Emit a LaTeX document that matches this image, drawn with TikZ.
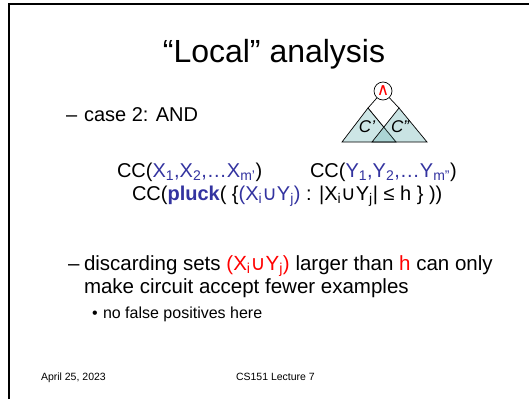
\documentclass[tikz,border=0pt]{standalone}
\usepackage{fontspec}
\setmainfont{Liberation Sans}
\newfontfamily\symf{DejaVu Sans}
\definecolor{xblue}{RGB}{51,51,160}
\definecolor{xred}{RGB}{255,0,0}
\definecolor{trifill}{RGB}{205,230,230}
\definecolor{trifilltwo}{RGB}{120,185,185}
\newcommand\sub[1]{\textsubscript{#1}}
\newcommand\myunion{{\symf ∪}}
\tikzset{
  txt/.style={anchor=base west, inner sep=0pt, outer sep=0pt},
  big/.style={font=\fontsize{20}{24}\selectfont},
  bigger/.style={font=\fontsize{20.5}{24}\selectfont},
  tri/.style={line width=0.7pt, draw=black, line join=miter},
}
\begin{document}
\begin{tikzpicture}[x=1pt,y=-1pt]
\useasboundingbox (0,0) rectangle (529,399);
\fill[white] (0,0) rectangle (529,399);
\draw[line width=2pt] (9,399) -- (9,4) -- (529,4);

\node[anchor=base, inner sep=0pt, font=\fontsize{32}{38}\selectfont] (title) at (274,62) {“Local” analysis};

\node[txt, big] (dash1) at (66,121) {–};
\node[txt, big] (case) at (84,121) {case 2: AND};

% tree
\coordinate (la) at (368,108);
\coordinate (lb1) at (342,142);
\coordinate (lb2) at (396,142);
\coordinate (ra) at (399,108);
\coordinate (rb1) at (372,142);
\coordinate (rb2) at (427,142);
\filldraw[tri, fill=trifill] (la) -- (lb1) -- (lb2) -- cycle;
\fill[trifilltwo, fill opacity=0.4] (ra) -- (rb1) -- (rb2) -- cycle;
\draw[tri, draw opacity=0.45] (la) -- (lb2);
\draw[tri] (ra) -- (rb1) -- (rb2) -- cycle;
\node[draw, circle, line width=0.7pt, fill=white, minimum size=18pt, inner sep=0pt, text=xred, font=\symf\fontsize{17}{17}\selectfont] (and) at (383,91) {\raisebox{-0.5pt}{∧}};
\draw[line width=0.7pt] (and) -- (la);
\draw[line width=0.7pt] (and) -- (ra);
\node[anchor=center, inner sep=0pt, font=\itshape\fontsize{17}{17}\selectfont] (c1) at (367,126.5) {C'};
\node[anchor=center, inner sep=0pt, font=\itshape\fontsize{17}{17}\selectfont] (c2) at (400,126.5) {C''};

% CC lines
\node[txt, big] (ccx) at (117,177) {CC(\textcolor{xblue}{X\sub{1},X\sub{2},…X\sub{m'}})};
\node[txt, big] (ccy) at (310,177) {CC(\textcolor{xblue}{Y\sub{1},Y\sub{2},…Y\sub{m''}})};
\node[txt, big] (ccp) at (132,200) {CC(\textcolor{xblue}{\bfseries pluck}( \{\textcolor{xblue}{(X\sub{i}\myunion Y\sub{j})} : |X\sub{i}\myunion Y\sub{j}| ≤ h \} ))};

% discarding
\node[txt, bigger] (dash2) at (68,270) {–};
\node[txt, bigger] (disc1) at (84,270) {discarding sets \textcolor{xred}{(X\sub{i}\myunion Y\sub{j})} larger than \textcolor{xred}{h} can only};
\node[txt, bigger] (disc2) at (84,293) {make circuit accept fewer examples};
\node[txt, font=\fontsize{16}{19}\selectfont] (bul) at (92,318) {•};
\node[txt, font=\fontsize{16}{19}\selectfont] (nofp) at (103,318) {no false positives here};

% footer
\node[txt, font=\fontsize{10.5}{12}\selectfont] (date) at (41,380) {April 25, 2023};
\node[txt, font=\fontsize{10.5}{12}\selectfont] (lect) at (236,380) {CS151 Lecture 7};
\end{tikzpicture}
\end{document}
